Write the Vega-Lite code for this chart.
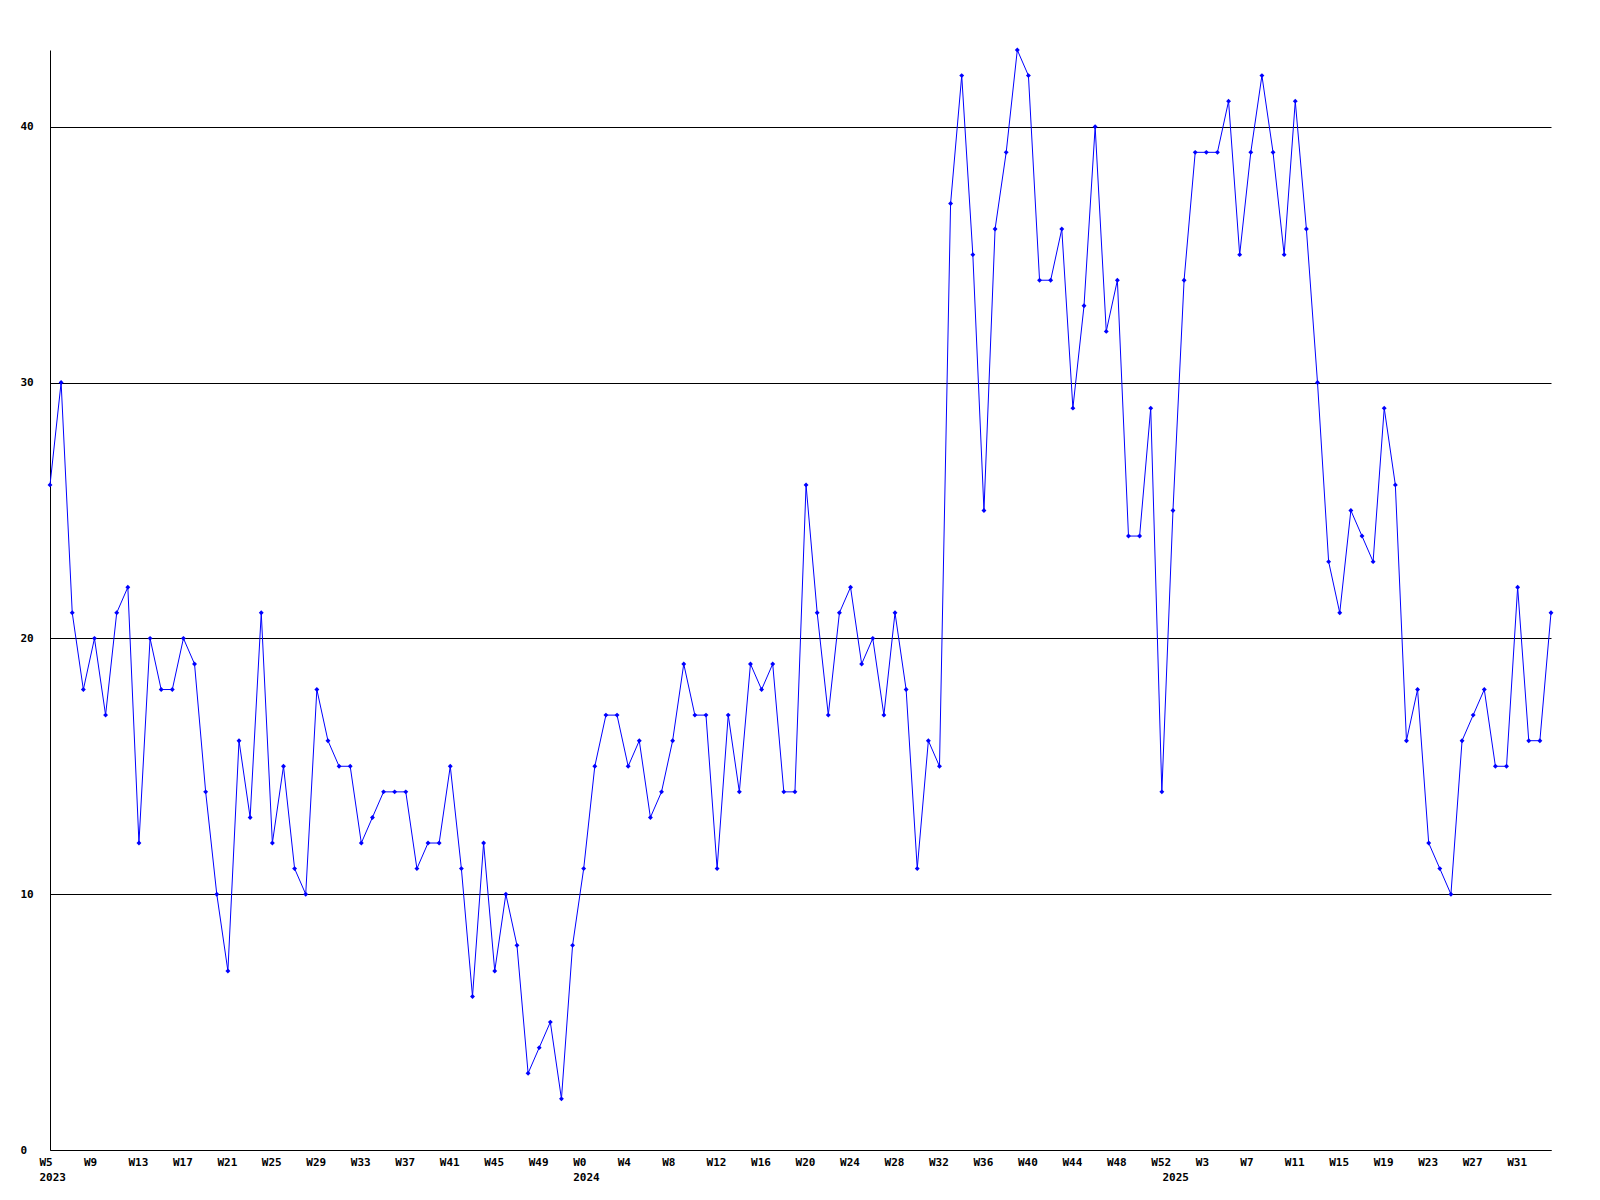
{
  "$schema": "https://vega.github.io/schema/vega-lite/v6.json",
  "autosize": "none",
  "width": 1501,
  "height": 1100,
  "padding": {"left": 50, "top": 50, "right": 49, "bottom": 50},
  "background": "white",
  "config": {
    "view": {"stroke": null},
    "font": "DejaVu Sans Mono",
    "axis": {"labelFont": "DejaVu Sans Mono", "labelFontWeight": "bold", "labelFontSize": 11, "labelColor": "black", "domainColor": "black", "domainWidth": 1, "ticks": false, "title": null}
  },
  "data": {"values": [
    {"week": "2023-W05", "value": 26}, {"week": "2023-W06", "value": 30}, {"week": "2023-W07", "value": 21}, {"week": "2023-W08", "value": 18},
    {"week": "2023-W09", "value": 20}, {"week": "2023-W10", "value": 17}, {"week": "2023-W11", "value": 21}, {"week": "2023-W12", "value": 22},
    {"week": "2023-W13", "value": 12}, {"week": "2023-W14", "value": 20}, {"week": "2023-W15", "value": 18}, {"week": "2023-W16", "value": 18},
    {"week": "2023-W17", "value": 20}, {"week": "2023-W18", "value": 19}, {"week": "2023-W19", "value": 14}, {"week": "2023-W20", "value": 10},
    {"week": "2023-W21", "value": 7}, {"week": "2023-W22", "value": 16}, {"week": "2023-W23", "value": 13}, {"week": "2023-W24", "value": 21},
    {"week": "2023-W25", "value": 12}, {"week": "2023-W26", "value": 15}, {"week": "2023-W27", "value": 11}, {"week": "2023-W28", "value": 10},
    {"week": "2023-W29", "value": 18}, {"week": "2023-W30", "value": 16}, {"week": "2023-W31", "value": 15}, {"week": "2023-W32", "value": 15},
    {"week": "2023-W33", "value": 12}, {"week": "2023-W34", "value": 13}, {"week": "2023-W35", "value": 14}, {"week": "2023-W36", "value": 14},
    {"week": "2023-W37", "value": 14}, {"week": "2023-W38", "value": 11}, {"week": "2023-W39", "value": 12}, {"week": "2023-W40", "value": 12},
    {"week": "2023-W41", "value": 15}, {"week": "2023-W42", "value": 11}, {"week": "2023-W43", "value": 6}, {"week": "2023-W44", "value": 12},
    {"week": "2023-W45", "value": 7}, {"week": "2023-W46", "value": 10}, {"week": "2023-W47", "value": 8}, {"week": "2023-W48", "value": 3},
    {"week": "2023-W49", "value": 4}, {"week": "2023-W50", "value": 5}, {"week": "2023-W51", "value": 2}, {"week": "2023-W52", "value": 8},
    {"week": "2024-W00", "value": 11}, {"week": "2024-W01", "value": 15}, {"week": "2024-W02", "value": 17}, {"week": "2024-W03", "value": 17},
    {"week": "2024-W04", "value": 15}, {"week": "2024-W05", "value": 16}, {"week": "2024-W06", "value": 13}, {"week": "2024-W07", "value": 14},
    {"week": "2024-W08", "value": 16}, {"week": "2024-W09", "value": 19}, {"week": "2024-W10", "value": 17}, {"week": "2024-W11", "value": 17},
    {"week": "2024-W12", "value": 11}, {"week": "2024-W13", "value": 17}, {"week": "2024-W14", "value": 14}, {"week": "2024-W15", "value": 19},
    {"week": "2024-W16", "value": 18}, {"week": "2024-W17", "value": 19}, {"week": "2024-W18", "value": 14}, {"week": "2024-W19", "value": 14},
    {"week": "2024-W20", "value": 26}, {"week": "2024-W21", "value": 21}, {"week": "2024-W22", "value": 17}, {"week": "2024-W23", "value": 21},
    {"week": "2024-W24", "value": 22}, {"week": "2024-W25", "value": 19}, {"week": "2024-W26", "value": 20}, {"week": "2024-W27", "value": 17},
    {"week": "2024-W28", "value": 21}, {"week": "2024-W29", "value": 18}, {"week": "2024-W30", "value": 11}, {"week": "2024-W31", "value": 16},
    {"week": "2024-W32", "value": 15}, {"week": "2024-W33", "value": 37}, {"week": "2024-W34", "value": 42}, {"week": "2024-W35", "value": 35},
    {"week": "2024-W36", "value": 25}, {"week": "2024-W37", "value": 36}, {"week": "2024-W38", "value": 39}, {"week": "2024-W39", "value": 43},
    {"week": "2024-W40", "value": 42}, {"week": "2024-W41", "value": 34}, {"week": "2024-W42", "value": 34}, {"week": "2024-W43", "value": 36},
    {"week": "2024-W44", "value": 29}, {"week": "2024-W45", "value": 33}, {"week": "2024-W46", "value": 40}, {"week": "2024-W47", "value": 32},
    {"week": "2024-W48", "value": 34}, {"week": "2024-W49", "value": 24}, {"week": "2024-W50", "value": 24}, {"week": "2024-W51", "value": 29},
    {"week": "2024-W52", "value": 14},
    {"week": "2025-W00", "value": 25}, {"week": "2025-W01", "value": 34}, {"week": "2025-W02", "value": 39}, {"week": "2025-W03", "value": 39},
    {"week": "2025-W04", "value": 39}, {"week": "2025-W05", "value": 41}, {"week": "2025-W06", "value": 35}, {"week": "2025-W07", "value": 39},
    {"week": "2025-W08", "value": 42}, {"week": "2025-W09", "value": 39}, {"week": "2025-W10", "value": 35}, {"week": "2025-W11", "value": 41},
    {"week": "2025-W12", "value": 36}, {"week": "2025-W13", "value": 30}, {"week": "2025-W14", "value": 23}, {"week": "2025-W15", "value": 21},
    {"week": "2025-W16", "value": 25}, {"week": "2025-W17", "value": 24}, {"week": "2025-W18", "value": 23}, {"week": "2025-W19", "value": 29},
    {"week": "2025-W20", "value": 26}, {"week": "2025-W21", "value": 16}, {"week": "2025-W22", "value": 18}, {"week": "2025-W23", "value": 12},
    {"week": "2025-W24", "value": 11}, {"week": "2025-W25", "value": 10}, {"week": "2025-W26", "value": 16}, {"week": "2025-W27", "value": 17},
    {"week": "2025-W28", "value": 18}, {"week": "2025-W29", "value": 15}, {"week": "2025-W30", "value": 15}, {"week": "2025-W31", "value": 22},
    {"week": "2025-W32", "value": 16}, {"week": "2025-W33", "value": 16}, {"week": "2025-W34", "value": 21}
  ]},
  "encoding": {
    "x": {
      "field": "week", "type": "ordinal", "sort": null,
      "scale": {"type": "point", "padding": 0},
      "axis": {
        "values": ["2023-W05","2023-W09","2023-W13","2023-W17","2023-W21","2023-W25","2023-W29","2023-W33","2023-W37","2023-W41","2023-W45","2023-W49",
                   "2024-W00","2024-W04","2024-W08","2024-W12","2024-W16","2024-W20","2024-W24","2024-W28","2024-W32","2024-W36","2024-W40","2024-W44","2024-W48","2024-W52",
                   "2025-W00","2025-W03","2025-W07","2025-W11","2025-W15","2025-W19","2025-W23","2025-W27","2025-W31"],
        "labelExpr": "datum.value == '2025-W00' ? ['', '2025'] : ((datum.value == '2023-W05' || datum.value == '2024-W00') ? ['W' + toNumber(slice(datum.value, 6)), slice(datum.value, 0, 4)] : 'W' + toNumber(slice(datum.value, 6)))",
        "labelAngle": 0,
        "labelAlign": "left",
        "labelOffset": -11,
        "labelBaseline": "top",
        "labelPadding": 6,
        "labelLineHeight": 15,
        "labelOverlap": false,
        "grid": false
      }
    },
    "y": {
      "field": "value", "type": "quantitative",
      "scale": {"domain": [0, 43], "nice": false, "zero": true},
      "axis": {
        "values": [0, 10, 20, 30, 40],
        "grid": true, "gridColor": "black", "gridOpacity": 1, "gridWidth": 1,
        "labelAlign": "left", "labelPadding": 30, "labelBaseline": "middle"
      }
    }
  },
  "layer": [
    {"mark": {"type": "line", "color": "#0000ff", "strokeWidth": 1}},
    {"mark": {"type": "point", "shape": "diamond", "filled": true, "color": "#0000ff", "size": 24, "opacity": 1}}
  ]
}
